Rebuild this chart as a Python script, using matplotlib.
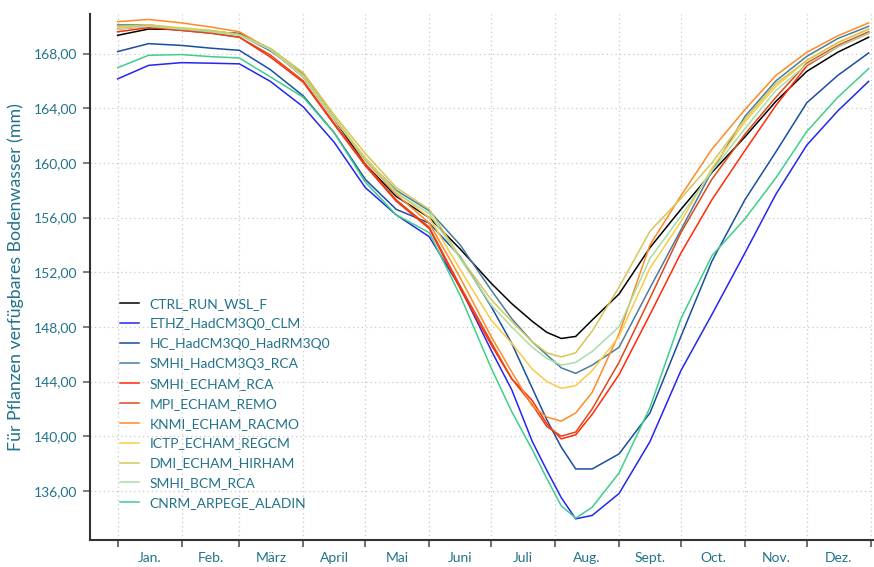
import numpy as np
import matplotlib
matplotlib.use("Agg")
import matplotlib.pyplot as plt

plt.rcParams['font.family'] = ['Lato', 'DejaVu Sans']

## Data, day of year -> plant available soil water (mm)
days = [0, 15, 31, 45, 59, 74, 90, 105, 120, 135, 151, 166, 181, 191, 201, 208,
        215, 222, 230, 243, 258, 273, 288, 304, 319, 334, 349, 364]

ctrl_run_wsl_f = [169.34, 169.8, 169.76, 169.6, 169.47, 168.3, 166.3, 163.2, 159.9, 157.55,
                  156.0, 153.7, 151.2, 149.7, 148.4, 147.6, 147.15, 147.3, 148.5, 150.4,
                  153.8, 156.6, 159.3, 161.9, 164.5, 166.7, 168.1, 169.2]
ethz_hadcm3q0_clm = [166.15, 167.14, 167.34, 167.3, 167.25, 165.97, 164.1, 161.5, 158.2, 156.2,
                     154.6, 150.9, 146.3, 143.4, 139.6, 137.5, 135.5, 133.95, 134.2, 135.8,
                     139.6, 144.8, 148.9, 153.4, 157.7, 161.3, 163.8, 165.97]
hc_hadcm3q0_hadrm3q0 = [168.15, 168.73, 168.6, 168.4, 168.24, 166.83, 164.9, 162.2, 158.8, 156.6,
                        155.6, 153.15, 149.5, 146.8, 143.5, 141.2, 139.2, 137.6, 137.6, 138.7,
                        141.7, 147.3, 152.8, 157.3, 160.8, 164.4, 166.4, 168.05]
smhi_hadcm3q3_rca = [170.1, 170.1, 169.8, 169.66, 169.4, 168.2, 166.5, 163.3, 160.3, 158.0,
                     156.5, 154.0, 150.7, 148.6, 146.9, 145.95, 145.0, 144.6, 145.2, 146.5,
                     150.85, 155.1, 159.4, 163.4, 166.0, 167.8, 169.1, 170.0]
smhi_echam_rca = [169.6, 169.9, 169.7, 169.5, 169.2, 167.75, 165.9, 162.8, 159.8, 157.2,
                  155.2, 150.8, 146.7, 144.2, 142.6, 140.9, 139.8, 140.1, 141.6, 144.5,
                  148.9, 153.4, 157.3, 160.9, 164.2, 167.1, 168.5, 169.5]
mpi_echam_remo = [169.8, 170.0, 169.7, 169.5, 169.2, 167.9, 166.0, 162.9, 159.9, 157.3,
                  155.3, 151.0, 146.9, 144.2, 142.3, 140.7, 140.0, 140.3, 142.0, 145.4,
                  150.1, 154.9, 158.8, 162.1, 164.8, 167.3, 168.6, 169.6]
knmi_echam_racmo = [170.34, 170.5, 170.25, 169.95, 169.6, 168.3, 166.3, 163.2, 160.2, 157.7,
                    155.6, 151.6, 147.3, 144.7, 142.2, 141.4, 141.1, 141.7, 143.2, 147.5,
                    154.0, 157.6, 161.0, 163.9, 166.4, 168.1, 169.3, 170.25]
ictp_echam_regcm = [169.9, 170.1, 169.9, 169.7, 169.4, 168.3, 166.4, 163.3, 160.4, 157.9,
                    156.0, 152.2, 148.5, 146.8, 144.9, 144.0, 143.5, 143.7, 144.8, 147.3,
                    152.3, 155.7, 159.6, 163.0, 165.6, 167.5, 168.8, 169.8]
dmi_echam_hirham = [170.0, 170.1, 169.8, 169.7, 169.4, 168.4, 166.6, 163.5, 160.7, 158.2,
                    156.6, 153.1, 150.0, 148.4, 146.9, 146.1, 145.8, 146.1, 147.7, 150.9,
                    155.0, 157.4, 160.0, 163.2, 165.8, 167.5, 168.8, 169.8]
smhi_bcm_rca = [169.8, 170.0, 169.8, 169.6, 169.35, 168.3, 166.3, 163.2, 160.3, 157.8,
                156.3, 153.0, 149.6, 148.0, 146.5, 145.7, 145.2, 145.4, 146.2, 148.0,
                153.0, 156.1, 159.4, 162.5, 165.3, 167.2, 168.5, 169.5]
cnrm_arpege_aladin = [166.97, 167.88, 167.93, 167.78, 167.68, 166.3, 164.8, 162.2, 158.6, 156.2,
                      154.9, 150.3, 145.0, 141.8, 139.0, 136.9, 134.9, 134.0, 134.8, 137.3,
                      142.1, 148.6, 153.2, 155.9, 158.9, 162.3, 164.8, 166.9]

series = [ctrl_run_wsl_f, ethz_hadcm3q0_clm, hc_hadcm3q0_hadrm3q0, smhi_hadcm3q3_rca,
          smhi_echam_rca, mpi_echam_remo, knmi_echam_racmo, ictp_echam_regcm,
          dmi_echam_hirham, smhi_bcm_rca, cnrm_arpege_aladin]
labels = ['CTRL_RUN_WSL_F', 'ETHZ_HadCM3Q0_CLM', 'HC_HadCM3Q0_HadRM3Q0', 'SMHI_HadCM3Q3_RCA',
          'SMHI_ECHAM_RCA', 'MPI_ECHAM_REMO', 'KNMI_ECHAM_RACMO', 'ICTP_ECHAM_REGCM',
          'DMI_ECHAM_HIRHAM', 'SMHI_BCM_RCA', 'CNRM_ARPEGE_ALADIN']
colors = ['#000000', '#2525f0', '#1a4ea0', '#4a7d9c', '#ff2a0a', '#e0481a',
          '#ff8a25', '#f8cc45', '#d6c655', '#a8dca8', '#3ecf8a']

month_starts = [0, 31, 59, 90, 120, 151, 181, 212, 243, 273, 304, 334, 365]
month_names = ['Jan.', 'Feb.', 'März', 'April', 'Mai', 'Juni', 'Juli', 'Aug.',
               'Sept.', 'Oct.', 'Nov.', 'Dez.']
y_ticks = [136, 140, 144, 148, 152, 156, 160, 164, 168]

text_col = '#22738a'

## Figure
fig = plt.figure(figsize=(8.74, 5.67), dpi=100)
ax = fig.add_axes([90/874, 27/567, 783/874, 526/567])

for vals, lab, col in zip(series, labels, colors):
    ax.plot(days, vals, color=col, linewidth=1.1, label=lab)

ax.set_xlim(-13.4, 366.1)
ax.set_ylim(132.4, 170.9)

# month boundaries as ticks, month names centred in between
mids = [(month_starts[i] + month_starts[i+1]) / 2 for i in range(12)]
ax.set_xticks(month_starts)
ax.set_xticklabels([])
ax.set_xticks(mids, minor=True)
ax.set_xticklabels(month_names, minor=True)
ax.set_yticks(y_ticks)
ax.set_yticklabels(["{:.2f}".format(v).replace('.', ',') for v in y_ticks])

ax.tick_params(axis='x', which='major', length=5, width=1.2, color='#555555', direction='out')
ax.tick_params(axis='x', which='minor', length=0, pad=9, labelsize=10, labelcolor=text_col)
ax.tick_params(axis='y', which='major', length=5, width=1.2, color='#666666', pad=4,
               labelsize=10, labelcolor=text_col)

ax.grid(True, which='major', linestyle=(0, (1, 2.5)), color='#c8c8c8', linewidth=0.9)
for s in ['top', 'right']:
    ax.spines[s].set_visible(False)
for s in ['left', 'bottom']:
    ax.spines[s].set_color('#333333')
    ax.spines[s].set_linewidth(1.5)

ax.set_ylabel('Für Pflanzen verfügbares Bodenwasser (mm)', fontsize=12.8, color=text_col, labelpad=7)

leg = ax.legend(loc='upper left', bbox_to_anchor=(0.038, 0.46), frameon=False,
                fontsize=10, handlelength=1.4, handletextpad=0.75, labelspacing=0.57,
                borderpad=0, borderaxespad=0)
for t in leg.get_texts():
    t.set_color(text_col)

plt.savefig('out.png', dpi=100)
